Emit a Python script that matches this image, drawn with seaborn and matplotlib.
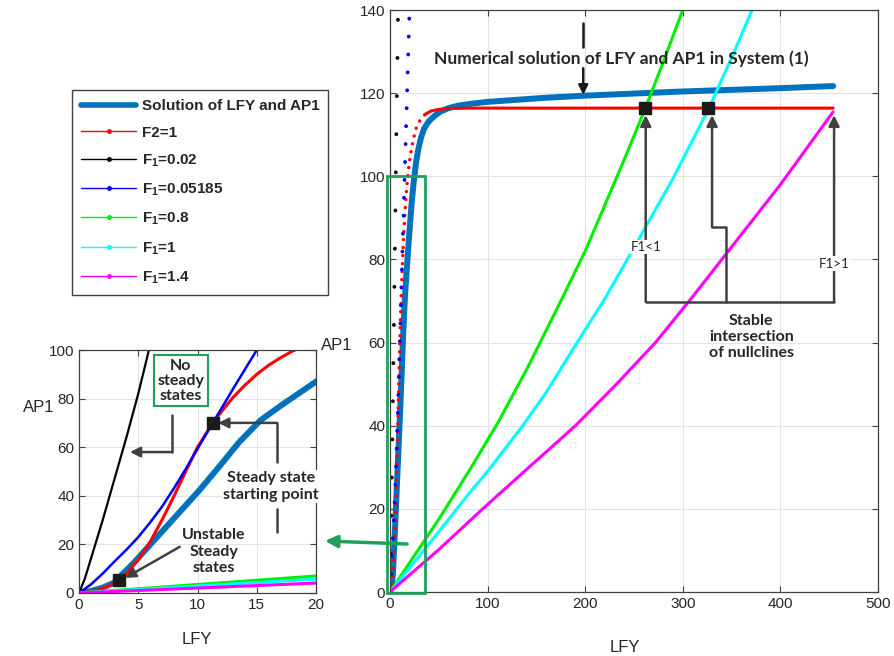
import numpy as np
import seaborn as sns
import matplotlib.pyplot as plt
from matplotlib.lines import Line2D
from matplotlib.patches import Rectangle

# curves (LFY, AP1)
sol_lfy = [0, 1, 2, 2.9, 4.6, 7.4, 10.2, 12, 13.5, 15.3, 17, 18.5, 20, 22, 24, 26.5, 29, 32, 35,
           40, 46, 52, 60, 70, 85, 100, 130, 160, 200, 250, 300, 350, 400, 454]
sol_ap1 = [0, 0.8, 2.2, 4.1, 12.3, 27.4, 42.5, 53, 62, 71, 77, 82, 87, 93, 98, 103, 106.5, 109.5, 111.5,
           113.3, 114.6, 115.6, 116.4, 117, 117.5, 117.9, 118.4, 118.9, 119.4, 119.9, 120.4, 120.8, 121.2, 121.7]

f2_lfy = [0, 1, 2, 3, 3.4, 4, 5, 6, 7, 8, 9, 10, 11.27, 12, 13, 14, 15, 16, 17, 18, 19, 20,
          22, 24, 27, 31, 36, 42, 50, 60, 80, 454]
f2_ap1 = [0, 0.6, 1.8, 4, 5, 8, 13.7, 21, 30, 39.7, 50, 60, 69.9, 74.5, 80.5, 85.5, 90, 93.7, 96.8, 99.5, 101.7, 103.6,
          106.6, 109, 111.7, 113.6, 114.9, 115.7, 116.1, 116.3, 116.4, 116.4]

f1_002_lfy = [0, 0.5, 1, 2, 3, 4, 5, 5.9, 6.8, 7.6, 8.3]
f1_002_ap1 = [0, 6, 14, 30, 47, 64, 82, 100, 116, 128, 140]

f1_005_lfy = [0, 1, 2, 3, 4, 5, 6, 7, 8, 9, 10, 11.27, 12, 13, 14, 15, 17.5, 20]
f1_005_ap1 = [0, 3.5, 8, 13, 17.8, 23, 29, 35.5, 43, 51, 59.3, 69.9, 75.8, 84, 92, 100, 120, 140]

f1_08_lfy = [0, 20, 50, 82, 110, 140, 174, 200, 220, 240, 261, 280, 300]
f1_08_ap1 = [0, 7, 17.5, 29.5, 40.5, 53.5, 69.5, 82, 93, 104, 116, 127.5, 140]

f1_1_lfy = [0, 20, 50, 82, 100, 136, 160, 189, 220, 248, 290, 326, 350, 371]
f1_1_ap1 = [0, 5.75, 14.5, 24, 29, 40, 48, 59, 70.5, 82, 99.5, 116, 128.5, 140]

f1_14_lfy = [0, 20, 50, 95, 140, 190, 230, 272, 310, 345, 400, 454]
f1_14_ap1 = [0, 4.1, 10.2, 20, 29.5, 40, 49.5, 60, 71, 81.5, 98, 115.5]

stable_lfy = [261, 326]
stable_ap1 = [116.4, 116.4]
unstable_lfy = [3.4, 11.27]
unstable_ap1 = [5.5, 69.9]

labels = ["Solution of LFY and AP1", "F2=1", r"F$_\mathbf{1}$=0.02", r"F$_\mathbf{1}$=0.05185",
          r"F$_\mathbf{1}$=0.8", r"F$_\mathbf{1}$=1", r"F$_\mathbf{1}$=1.4"]
colors = ["#0072BD", "#ff0000", "#000000", "#0000ff", "#00ee00", "#00ffff", "#ff00ff"]

sns.set_theme(style="ticks", rc={
    "axes.grid": True, "grid.color": "#e3e3e3", "grid.linewidth": 0.8,
    "xtick.direction": "in", "ytick.direction": "in",
    "xtick.top": True, "ytick.right": True,
    "axes.edgecolor": "#404040", "axes.linewidth": 0.9,
    "xtick.color": "#404040", "ytick.color": "#404040",
    "xtick.labelcolor": "#262626", "ytick.labelcolor": "#262626",
    "xtick.labelsize": 11, "ytick.labelsize": 11,
})
plt.rcParams["font.family"] = ["Liberation Sans", "DejaVu Sans"]
plt.rcParams["mathtext.fontset"] = "custom"
plt.rcParams["mathtext.rm"] = "Liberation Sans"
plt.rcParams["mathtext.bf"] = "Liberation Sans:bold"

green = "#20a05a"
gray = "#404040"
bold = dict(family="Lato", fontweight="bold")

fig = plt.figure(figsize=(8.95, 6.56), dpi=100)
W, H = 895, 656
ax = fig.add_axes([390 / W, 1 - 592 / H, 488 / W, 582 / H])
axi = fig.add_axes([79 / W, 1 - 593 / H, 237 / W, 243 / H])

# ---- main panel
f2_lfy_a = np.array(f2_lfy)
f2_ap1_a = np.array(f2_ap1)
steep = f2_lfy_a <= 36
flat = f2_lfy_a >= 36
sns.lineplot(x=sol_lfy, y=sol_ap1, ax=ax, color=colors[0], lw=4.3, sort=False,
             estimator=None, solid_capstyle="round")
sns.lineplot(x=f2_lfy_a[steep], y=f2_ap1_a[steep], ax=ax, color=colors[1], lw=2.5,
             sort=False, estimator=None, linestyle=(0, (0.01, 2.3)), dash_capstyle="round")
sns.lineplot(x=f2_lfy_a[flat], y=f2_ap1_a[flat], ax=ax, color=colors[1], lw=2.2,
             sort=False, estimator=None)
sns.lineplot(x=f1_002_lfy, y=f1_002_ap1, ax=ax, color=colors[2], lw=2.8, sort=False,
             estimator=None, linestyle=(0, (0.01, 9.8)), dash_capstyle="round")
sns.lineplot(x=f1_005_lfy, y=f1_005_ap1, ax=ax, color=colors[3], lw=2.8, sort=False,
             estimator=None, linestyle=(0, (0.01, 4.6)), dash_capstyle="round")
for xs, ys, c in [(f1_08_lfy, f1_08_ap1, colors[4]), (f1_1_lfy, f1_1_ap1, colors[5]),
                  (f1_14_lfy, f1_14_ap1, colors[6])]:
    sns.lineplot(x=xs, y=ys, ax=ax, color=c, lw=2.2, sort=False, estimator=None)
ax.plot(stable_lfy, stable_ap1, "s", color="k", ms=9, zorder=5)

ax.set_xlim(0, 500)
ax.set_ylim(0, 140)
ax.set_xticks(range(0, 501, 100))
ax.set_yticks(range(0, 141, 20))
ax.set_xlabel("")
ax.set_ylabel("")
ax.tick_params(length=4, width=0.8)

ax.add_patch(Rectangle((-3.1, -0.3), 39, 100.3, fill=False, ec=green, lw=2, clip_on=False, zorder=6))

arr = dict(arrowstyle="-|>", color=gray, lw=1.8, mutation_scale=16, shrinkA=0, shrinkB=0)
ax.plot([262, 455], [69.8, 69.8], color=gray, lw=1.8, clip_on=False)
ax.plot([344, 344, 330], [69.8, 87.8, 87.8], color=gray, lw=1.8)
ax.annotate("", xy=(262, 114.7), xytext=(262, 69.8), arrowprops=arr)
ax.annotate("", xy=(455, 114.7), xytext=(455, 69.8), arrowprops=arr, annotation_clip=False)
ax.annotate("", xy=(330, 114.7), xytext=(330, 87.8), arrowprops=arr)
ax.text(262, 83, "F1<1", ha="center", va="center", fontsize=9.5, family="Lato",
        bbox=dict(fc="white", ec="none", pad=1), zorder=7)
ax.text(455, 79, "F1>1", ha="center", va="center", fontsize=9.5, family="Lato",
        bbox=dict(fc="white", ec="none", pad=1), zorder=7, clip_on=False)
ax.text(370, 61.3, "Stable\nintersection\nof nullclines", ha="center", va="center",
        fontsize=11.5, linespacing=1.2, **bold)

ax.text(237, 128.3, "Numerical solution of LFY and AP1 in System (1)", ha="center",
        va="center", fontsize=12.5, **bold)
ax.plot([198, 198], [136.9, 131.1], color="k", lw=1.8)
ax.annotate("", xy=(198, 119.6), xytext=(198, 126), arrowprops=dict(
    arrowstyle="-|>", color="k", lw=1.8, mutation_scale=14, shrinkA=0, shrinkB=0))

# ---- inset panel
sns.lineplot(x=sol_lfy, y=sol_ap1, ax=axi, color=colors[0], lw=4.3, sort=False, estimator=None)
sns.lineplot(x=f2_lfy, y=f2_ap1, ax=axi, color=colors[1], lw=2.2, sort=False, estimator=None)
sns.lineplot(x=f1_002_lfy, y=f1_002_ap1, ax=axi, color=colors[2], lw=1.6, sort=False, estimator=None)
sns.lineplot(x=f1_005_lfy, y=f1_005_ap1, ax=axi, color=colors[3], lw=1.8, sort=False, estimator=None)
for xs, ys, c in [(f1_08_lfy, f1_08_ap1, colors[4]), (f1_1_lfy, f1_1_ap1, colors[5]),
                  (f1_14_lfy, f1_14_ap1, colors[6])]:
    sns.lineplot(x=xs, y=ys, ax=axi, color=c, lw=2.2, sort=False, estimator=None)
axi.plot(unstable_lfy, unstable_ap1, "s", color="k", ms=8, zorder=5)
axi.set_xlim(0, 20)
axi.set_ylim(0, 100)
axi.set_xticks(range(0, 21, 5))
axi.set_yticks(range(0, 101, 20))
axi.set_xlabel("")
axi.set_ylabel("")
axi.tick_params(length=4, width=0.8)

arri = dict(arrowstyle="-|>", color=gray, lw=1.8, mutation_scale=15, shrinkA=0, shrinkB=0)
axi.text(8.6, 87.4, "No\nsteady\nstates", ha="center", va="center", fontsize=11.5,
         linespacing=1.1, zorder=7, **bold,
         bbox=dict(boxstyle="square,pad=0.2", fc="white", ec=green, lw=1.5))
axi.plot([7.85, 7.85], [73.3, 58], color=gray, lw=1.8)
axi.annotate("", xy=(4.3, 58), xytext=(7.85, 58), arrowprops=arri)

axi.text(16.2, 43.9, "Steady state\nstarting point", ha="center", va="center", fontsize=11.5,
         linespacing=1.25, zorder=7, clip_on=False, **bold,
         bbox=dict(fc="white", ec="none", pad=1))
axi.plot([16.7, 16.7], [25.3, 34.4], color=gray, lw=1.8)
axi.plot([16.7, 16.7], [53.8, 70], color=gray, lw=1.8)
axi.annotate("", xy=(11.75, 70), xytext=(16.7, 70), arrowprops=arri)

axi.text(11.4, 17, "Unstable\nSteady\nstates", ha="center", va="center", fontsize=11.5,
         linespacing=1.2, zorder=7, **bold)
axi.annotate("", xy=(3.9, 6.2), xytext=(8.5, 19), arrowprops=arri)

# ---- figure level labels, legend and linking arrow
fig.text(197 / W, 1 - 640 / H, "LFY", ha="center", va="center", fontsize=12)
fig.text(625 / W, 1 - 647 / H, "LFY", ha="center", va="center", fontsize=12)
fig.text(39 / W, 1 - 408 / H, "AP1", ha="center", va="center", fontsize=12)
fig.text(337 / W, 1 - 346 / H, "AP1", ha="center", va="center", fontsize=12)

handles = [Line2D([], [], color=colors[0], lw=4)]
handles += [Line2D([], [], color=c, lw=1, marker=".", ms=5) for c in colors[1:]]
fig.legend(handles, labels, loc="upper left", bbox_to_anchor=(72 / W, 1 - 90 / H),
           bbox_transform=fig.transFigure, borderaxespad=0, frameon=True, fancybox=False,
           edgecolor=gray, framealpha=1, handlelength=3.6, handletextpad=0.35,
           labelspacing=0.82, borderpad=0.6, prop=dict(family="Liberation Sans",
                                                       weight="bold", size=11))

ax.annotate("", xy=(325 / W, 1 - 541 / H), xycoords="figure fraction",
            xytext=(407 / W, 1 - 544 / H), textcoords="figure fraction",
            arrowprops=dict(arrowstyle="-|>", color=green, lw=2.5, mutation_scale=18,
                            shrinkA=0, shrinkB=0), annotation_clip=False)

fig.savefig("out.png", dpi=100)
